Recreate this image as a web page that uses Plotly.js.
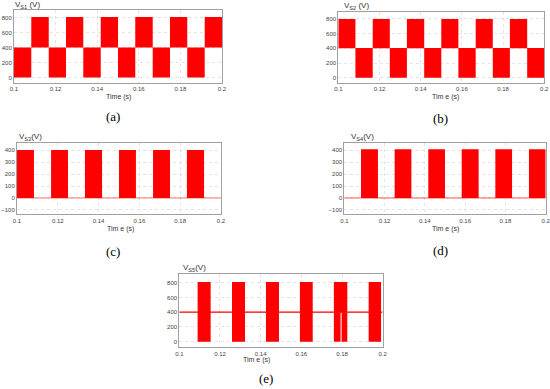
<!DOCTYPE html>
<html>
<head>
<meta charset="utf-8">
<script src="https://cdn.plot.ly/plotly-3.0.1.min.js"></script>
<style>html,body{margin:0;padding:0;background:#fff;} #chart{width:550px;height:389px;}</style>
</head>
<body>
<div id="chart"></div>
<script>
// ---- data ----
const xTickVals = [0.1, 0.12, 0.14, 0.16, 0.18, 0.2];
const xTickText = ["0.1", "0.12", "0.14", "0.16", "0.18", "0.2"];
const yTicksHigh = [0, 200, 400, 600, 800];
const yTicksLow = [-100, 0, 100, 200, 300, 400];

// (a) V_S1 : switching bands
const aStart = [0.1, 0.1083, 0.1167, 0.125, 0.1333, 0.1417, 0.15, 0.1583, 0.1667, 0.175, 0.1833, 0.1917];
const aEnd   = [0.1083, 0.1167, 0.125, 0.1333, 0.1417, 0.15, 0.1583, 0.1667, 0.175, 0.1833, 0.1917, 0.2];
const aLow   = [0, 400, 0, 400, 0, 400, 0, 400, 0, 400, 0, 400];
const aHigh  = [400, 808, 400, 808, 400, 808, 400, 808, 400, 808, 400, 808];

// (b) V_S2
const bStart = [0.1, 0.1083, 0.1167, 0.125, 0.1333, 0.1417, 0.15, 0.1583, 0.1667, 0.175, 0.1833, 0.1917];
const bEnd   = [0.1083, 0.1167, 0.125, 0.1333, 0.1417, 0.15, 0.1583, 0.1667, 0.175, 0.1833, 0.1917, 0.2];
const bLow   = [400, 0, 400, 0, 400, 0, 400, 0, 400, 0, 400, 0];
const bHigh  = [800, 405, 800, 405, 800, 405, 800, 405, 800, 405, 800, 405];

// (c) V_S3
const cStart = [0.1, 0.1167, 0.1333, 0.15, 0.1667, 0.1833];
const cEnd   = [0.1083, 0.125, 0.1417, 0.1583, 0.175, 0.1917];
const cLow   = [0, 0, 0, 0, 0, 0];
const cHigh  = [400, 400, 400, 400, 400, 400];
const cBase  = [0, 0];

// (d) V_S4
const dStart = [0.1083, 0.125, 0.1417, 0.1583, 0.175, 0.1917];
const dEnd   = [0.1167, 0.1333, 0.15, 0.1667, 0.1833, 0.2];
const dLow   = [0, 0, 0, 0, 0, 0];
const dHigh  = [406, 406, 406, 406, 406, 406];
const dBase  = [0, 0];

// (e) V_S5
const eStart = [0.109, 0.1259, 0.1426, 0.1593, 0.176, 0.176, 0.1798, 0.1931];
const eEnd   = [0.1154, 0.1323, 0.149, 0.1656, 0.1826, 0.1793, 0.1826, 0.1992];
const eLow   = [0, 0, 0, 0, 400, 0, 0, 0];
const eHigh  = [808, 808, 808, 808, 808, 400, 400, 808];
const eBase  = [400, 400];

const xLine = [0.1, 0.2];
const RED = '#ff0000';

function bars(start, end, low, high, ax) {
  return {
    type: 'bar',
    x: start.map((s, i) => (s + end[i]) / 2),
    width: start.map((s, i) => end[i] - s),
    base: low,
    y: high.map((h, i) => h - low[i]),
    marker: {color: RED, line: {width: 0}},
    xaxis: 'x' + ax, yaxis: 'y' + ax,
    hoverinfo: 'skip'
  };
}
function line(yv, ax, color, w) {
  return {type: 'scatter', mode: 'lines', x: xLine, y: yv,
    line: {color: color, width: w}, xaxis: 'x' + ax, yaxis: 'y' + ax, hoverinfo: 'skip'};
}

const traces = [
  bars(aStart, aEnd, aLow, aHigh, ''),
  bars(bStart, bEnd, bLow, bHigh, '2'),
  line(cBase, '3', 'rgba(255,0,0,0.55)', 1),
  bars(cStart, cEnd, cLow, cHigh, '3'),
  line(dBase, '4', 'rgba(255,0,0,0.45)', 1.5),
  bars(dStart, dEnd, dLow, dHigh, '4'),
  bars(eStart, eEnd, eLow, eHigh, '5'),
  line(eBase, '5', RED, 1.3)
];

const W = 550, H = 389;
function xd(l, r) { return [l / W, r / W]; }
function yd(t, b) { return [1 - b / H, 1 - t / H]; }
const tickFont = {family: 'Liberation Sans, Arial, sans-serif', size: 6, color: '#444'};
function xax(dom, anchor) {
  return {domain: dom, anchor: anchor, range: [0.09999, 0.20001], tickvals: xTickVals, ticktext: xTickText,
    ticklabeloverflow: 'allow',
    showgrid: true, gridcolor: '#e4e4e4', griddash: 'dot', gridwidth: 1,
    showline: true, mirror: true, linecolor: '#a0a0a0', linewidth: 1,
    ticks: '', zeroline: false, tickfont: tickFont, fixedrange: true};
}
function yax(dom, anchor, range, tv) {
  return {domain: dom, anchor: anchor, range: range, tickvals: tv,
    showgrid: true, gridcolor: '#e4e4e4', griddash: 'dot', gridwidth: 1,
    showline: true, mirror: true, linecolor: '#a0a0a0', linewidth: 1,
    ticks: '', zeroline: false, tickfont: tickFont, fixedrange: true};
}

const titleFont = {family: 'Liberation Sans, Arial, sans-serif', size: 8, color: '#333'};
const axFont = {family: 'Liberation Sans, Arial, sans-serif', size: 7, color: '#333'};
const labFont = {family: 'Liberation Serif, Times New Roman, serif', size: 13, color: '#000'};
function ann(text, x, y, font, xanchor) {
  return {text: text, x: x / W, y: 1 - y / H, xref: 'paper', yref: 'paper',
    showarrow: false, font: font, xanchor: xanchor || 'center', yanchor: 'middle'};
}

const layout = {
  width: W, height: H, margin: {l: 0, r: 0, t: 0, b: 0},
  paper_bgcolor: '#fff', plot_bgcolor: '#fff', showlegend: false, barmode: 'overlay',
  xaxis: xax(xd(14, 222), 'y'),   yaxis: yax(yd(10, 82.5), 'x', [-68, 900], yTicksHigh),
  xaxis2: xax(xd(338.3, 544.3), 'y2'), yaxis2: yax(yd(12.3, 82.7), 'x2', [-68, 891], yTicksHigh),
  xaxis3: xax(xd(17, 221), 'y3'), yaxis3: yax(yd(143.3, 214.3), 'x3', [-136, 456], yTicksLow),
  xaxis4: xax(xd(344.3, 545.7), 'y4'), yaxis4: yax(yd(143.3, 214.3), 'x4', [-136, 456], yTicksLow),
  xaxis5: xax(xd(179.3, 382.7), 'y5'), yaxis5: yax(yd(274.3, 347.3), 'x5', [-76, 914], yTicksHigh),
  annotations: [
    ann('V<sub>S1</sub> (V)', 13, 5, titleFont, 'left'),
    ann('V<sub>S2</sub> (V)', 342, 6, titleFont, 'left'),
    ann('V<sub>S3</sub>(V)', 17, 137, titleFont, 'left'),
    ann('V<sub>S4</sub>(V)', 349, 137, titleFont, 'left'),
    ann('V<sub>S5</sub>(V)', 181, 268, titleFont, 'left'),
    ann('Time (s)', 118, 97, axFont),
    ann('Tim e (s)', 445.5, 97, axFont),
    ann('Tim e (s)', 120, 229, axFont),
    ann('Tim e (s)', 445, 229, axFont),
    ann('Tim e (s)', 256, 360, axFont),
    ann('(a)', 113, 116, labFont),
    ann('(b)', 441, 118, labFont),
    ann('(c)', 113, 252, labFont),
    ann('(d)', 440, 250, labFont),
    ann('(e)', 266, 378, labFont)
  ]
};

Plotly.newPlot('chart', traces, layout, {staticPlot: true, displayModeBar: false});
</script>
</body>
</html>
